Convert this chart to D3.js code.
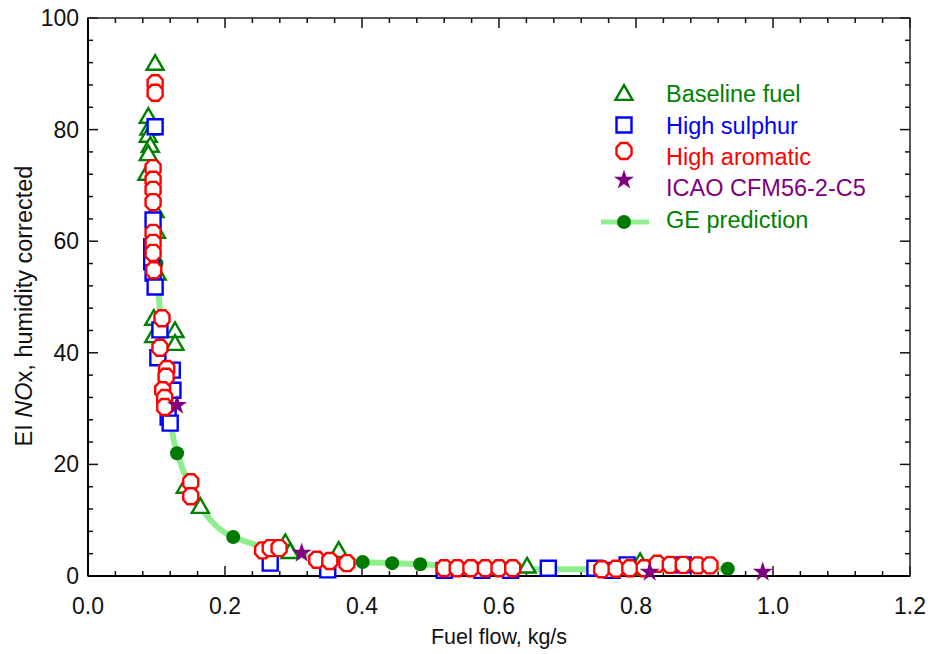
<!DOCTYPE html>
<html>
<head>
<meta charset="utf-8">
<script src="https://cdn.jsdelivr.net/npm/d3@7"></script>
<style>
  body { margin: 0; background: #fff; }
  text { font-family: "Liberation Sans", Arial, sans-serif; }
</style>
</head>
<body>
<svg id="chart" width="932" height="654"></svg>
<script>
// Baseline fuel measurements (fuel flow kg/s, EI NOx)
const baselineX = [0.098, 0.088, 0.089, 0.088, 0.091, 0.088, 0.086, 0.098, 0.100, 0.101, 0.096, 0.096, 0.127, 0.127, 0.142, 0.164, 0.288, 0.295, 0.366, 0.641, 0.806];
const baselineY = [91.6, 82.1, 80.0, 78.7, 76.9, 75.4, 71.9, 65.2, 61.5, 54.0, 45.9, 42.8, 43.7, 41.4, 15.8, 12.2, 5.7, 4.1, 4.3, 1.5, 2.3];

// High sulphur fuel
const sulphurX = [0.098, 0.095, 0.093, 0.093, 0.095, 0.098, 0.105, 0.102, 0.123, 0.124, 0.117, 0.120, 0.266, 0.350, 0.520, 0.575, 0.617, 0.672, 0.740, 0.765, 0.787, 0.869];
const sulphurY = [80.5, 63.8, 59.0, 56.3, 54.3, 51.8, 44.1, 39.1, 36.9, 33.3, 28.5, 27.4, 2.3, 1.1, 1.0, 1.0, 1.0, 1.4, 1.4, 1.0, 2.0, 2.0];

// High aromatic fuel
const aromaticX = [0.098, 0.098, 0.095, 0.095, 0.095, 0.095, 0.095, 0.095, 0.095, 0.096,
                   0.108, 0.105, 0.115, 0.114, 0.109, 0.112, 0.112, 0.150, 0.150,
                   0.255, 0.266, 0.279, 0.334, 0.353, 0.378,
                   0.520, 0.539, 0.559, 0.580, 0.600, 0.620,
                   0.750, 0.771, 0.791, 0.812, 0.831, 0.850, 0.869, 0.890, 0.908];
const aromaticY = [88.3, 86.6, 73.1, 71.0, 69.2, 67.0, 61.5, 59.7, 57.9, 54.8,
                   46.2, 40.9, 37.1, 35.7, 33.3, 31.9, 30.3, 16.8, 14.3,
                   4.6, 5.0, 5.0, 2.9, 2.7, 2.3,
                   1.4, 1.4, 1.4, 1.4, 1.4, 1.4,
                   1.2, 1.3, 1.4, 1.4, 2.2, 2.0, 2.0, 1.9, 1.9];

// ICAO databank, CFM56-2-C5
const icaoX = [0.130, 0.312, 0.820, 0.985];
const icaoY = [30.6, 4.1, 0.7, 0.7];

// GE prediction curve
const geX = [0.100, 0.112, 0.130, 0.212, 0.401, 0.444, 0.485, 0.600, 0.800, 0.934];
const geY = [56.0, 37.0, 22.0, 7.0, 2.5, 2.3, 2.1, 1.2, 1.2, 1.3];

const xTicks = [0.0, 0.2, 0.4, 0.6, 0.8, 1.0, 1.2];
const yTicks = [0, 20, 40, 60, 80, 100];

const legendLabels = ["Baseline fuel", "High sulphur", "High aromatic", "ICAO CFM56-2-C5", "GE prediction"];
const legendColors = ["#008000", "#0000ff", "#ff0000", "#800080", "#008000"];

const svg = d3.select("#chart");
const W = 932, H = 654;
const m = { left: 88, right: 910, top: 18, bottom: 576 };

svg.append("rect").attr("width", W).attr("height", H).attr("fill", "#fff");

const x = d3.scaleLinear().domain([0, 1.2]).range([m.left, m.right]);
const y = d3.scaleLinear().domain([0, 100]).range([m.bottom, m.top]);

const xMinor = d3.range(0, 1.2001, 0.04);
const yMinor = d3.range(0, 100.001, 4);

// Inward ticks on all four sides
const tickColor = "#111";
function isMajorX(v) { return Math.abs(v / 0.2 - Math.round(v / 0.2)) < 1e-6; }
function isMajorY(v) { return Math.abs(v / 20 - Math.round(v / 20)) < 1e-6; }
const ticksG = svg.append("g").attr("stroke", tickColor).attr("stroke-width", 1.5);
xMinor.forEach(v => {
  const len = isMajorX(v) ? 10 : 5;
  ticksG.append("line").attr("x1", x(v)).attr("x2", x(v)).attr("y1", m.bottom).attr("y2", m.bottom - len);
  ticksG.append("line").attr("x1", x(v)).attr("x2", x(v)).attr("y1", m.top).attr("y2", m.top + len);
});
yMinor.forEach(v => {
  const len = isMajorY(v) ? 10 : 5;
  ticksG.append("line").attr("y1", y(v)).attr("y2", y(v)).attr("x1", m.left).attr("x2", m.left + len);
  ticksG.append("line").attr("y1", y(v)).attr("y2", y(v)).attr("x1", m.right).attr("x2", m.right - len);
});

// Frame
svg.append("rect")
  .attr("x", m.left).attr("y", m.top)
  .attr("width", m.right - m.left).attr("height", m.bottom - m.top)
  .attr("fill", "none").attr("stroke", "#222").attr("stroke-width", 1.5);
svg.append("line").attr("x1", m.left).attr("x2", m.left).attr("y1", m.top).attr("y2", m.bottom)
  .attr("stroke", "#000").attr("stroke-width", 2);
svg.append("line").attr("x1", m.left).attr("x2", m.right).attr("y1", m.bottom).attr("y2", m.bottom)
  .attr("stroke", "#000").attr("stroke-width", 2);

// Tick labels
svg.append("g").selectAll("text").data(xTicks).join("text")
  .attr("x", d => x(d)).attr("y", 614)
  .attr("text-anchor", "middle").attr("font-size", 23).attr("fill", "#111")
  .text(d => d.toFixed(1));
svg.append("g").selectAll("text").data(yTicks).join("text")
  .attr("x", 79).attr("y", d => y(d) + 8)
  .attr("text-anchor", "end").attr("font-size", 23).attr("fill", "#111")
  .text(d => d);

// Axis titles
svg.append("text").attr("x", 499).attr("y", 644)
  .attr("text-anchor", "middle").attr("font-size", 21.5).attr("fill", "#111")
  .text("Fuel flow, kg/s");
const yt = svg.append("text")
  .attr("transform", `translate(32, 306) rotate(-90)`)
  .attr("text-anchor", "middle").attr("font-size", 23.5).attr("fill", "#111");
yt.append("tspan").text("EI ");
yt.append("tspan").attr("font-style", "italic").text("NO");
yt.append("tspan").text("x, humidity corrected");

// Marker shapes
const triPath = d3.symbol().type(d3.symbolTriangle).size(125)();
const sqPath = "M-7.5,-7.5H7.5V7.5H-7.5Z";
function octagon(rx, ry) {
  const cx = rx * 0.45, cy = ry * 0.45;
  return `M${-cx},${-ry}L${cx},${-ry}L${rx},${-cy}L${rx},${cy}L${cx},${ry}L${-cx},${ry}L${-rx},${cy}L${-rx},${-cy}Z`;
}
const octPath = octagon(7.5, 8);
const starPath = d3.symbol().type(d3.symbolStar).size(125)();

// GE prediction line and points
const gePts = geX.map((v, i) => [v, geY[i]]);
svg.append("path")
  .attr("d", d3.line().x(d => x(d[0])).y(d => y(d[1])).curve(d3.curveMonotoneX)(gePts))
  .attr("fill", "none").attr("stroke", "#90ee90").attr("stroke-width", 6)
  .attr("stroke-linecap", "round").attr("stroke-linejoin", "round");
svg.append("g").selectAll("circle").data(gePts).join("circle")
  .attr("cx", d => x(d[0])).attr("cy", d => y(d[1])).attr("r", 7)
  .attr("fill", "#007a00");

function drawMarkers(xs, ys, path, color, filled) {
  svg.append("g").selectAll("path").data(xs.map((v, i) => [v, ys[i]])).join("path")
    .attr("d", path)
    .attr("transform", d => `translate(${x(d[0])},${y(d[1])})`)
    .attr("fill", filled ? color : "#fff")
    .attr("stroke", filled ? "none" : color)
    .attr("stroke-width", 2.4);
}
drawMarkers(baselineX, baselineY, triPath, "#008000", false);
drawMarkers(sulphurX, sulphurY, sqPath, "#0000ff", false);
drawMarkers(aromaticX, aromaticY, octPath, "#ff0000", false);
drawMarkers(icaoX, icaoY, starPath, "#800080", true);

// Legend
const lg = svg.append("g");
const rowY = [94, 126, 157, 188, 220];
const symX = 624, textX = 666;
lg.append("path").attr("d", triPath).attr("transform", `translate(${symX},${rowY[0] + 1})`)
  .attr("fill", "#fff").attr("stroke", legendColors[0]).attr("stroke-width", 2.4);
lg.append("path").attr("d", sqPath).attr("transform", `translate(${symX},${rowY[1] - 1})`)
  .attr("fill", "#fff").attr("stroke", legendColors[1]).attr("stroke-width", 2.4);
lg.append("path").attr("d", octPath).attr("transform", `translate(${symX},${rowY[2] - 6})`)
  .attr("fill", "#fff").attr("stroke", legendColors[2]).attr("stroke-width", 2.4);
lg.append("path").attr("d", starPath).attr("transform", `translate(${symX},${rowY[3] - 8})`)
  .attr("fill", legendColors[3]);
lg.append("line").attr("x1", 601).attr("x2", 649).attr("y1", rowY[4] + 2).attr("y2", rowY[4] + 2)
  .attr("stroke", "#90ee90").attr("stroke-width", 5);
lg.append("circle").attr("cx", symX).attr("cy", rowY[4] + 2).attr("r", 7).attr("fill", "#007a00");
lg.selectAll("text.lab").data(legendLabels).join("text")
  .attr("class", "lab")
  .attr("x", textX).attr("y", (d, i) => rowY[i] + 8)
  .attr("font-size", 23.5)
  .attr("fill", (d, i) => legendColors[i])
  .text(d => d);
</script>
</body>
</html>
